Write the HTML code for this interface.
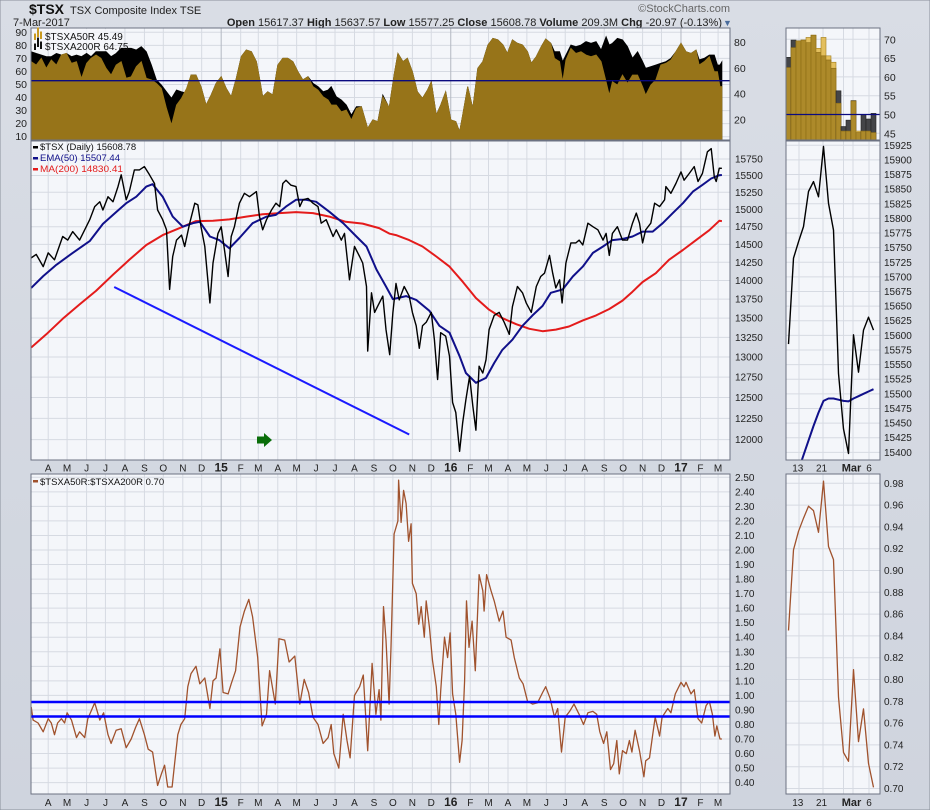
<!DOCTYPE html>
<html><head><meta charset="utf-8"><title>$TSX chart</title>
<style>
html,body{margin:0;padding:0;background:#d3d8e1;}
svg{display:block;}
text{font-family:"Liberation Sans",sans-serif;}
</style></head>
<body>
<svg id="chart" xmlns="http://www.w3.org/2000/svg" width="930" height="810" viewBox="0 0 930 810">
<defs>
<linearGradient id="bgGrad" x1="0" y1="0" x2="0" y2="1"><stop offset="0" stop-color="#d9dde5"/><stop offset="1" stop-color="#cfd4de"/></linearGradient>
<clipPath id="clipTop"><rect x="31" y="28" width="699" height="112"/></clipPath>
<clipPath id="clipMain"><rect x="31" y="141" width="699" height="319"/></clipPath>
<clipPath id="clipBot"><rect x="31" y="474" width="699" height="320"/></clipPath>
<clipPath id="clipSTop"><rect x="786" y="28" width="94" height="112"/></clipPath>
<clipPath id="clipSMain"><rect x="786" y="141" width="94" height="319"/></clipPath>
<clipPath id="clipSBot"><rect x="786" y="474" width="94" height="320"/></clipPath>
</defs>
<rect x="0" y="0" width="930" height="810" fill="url(#bgGrad)" stroke="#8a909b"/>
<text x="29" y="14" font-size="14" font-weight="bold" fill="#111">$TSX</text>
<text x="70" y="14" font-size="11" fill="#222">TSX Composite Index TSE</text>
<text x="13" y="26" font-size="11" fill="#222">7-Mar-2017</text>
<text x="722" y="26" font-size="11" fill="#222" text-anchor="end"><tspan font-weight="bold">Open</tspan> 15617.37 <tspan font-weight="bold">High</tspan> 15637.57 <tspan font-weight="bold">Low</tspan> 15577.25 <tspan font-weight="bold">Close</tspan> 15608.78 <tspan font-weight="bold">Volume</tspan> 209.3M <tspan font-weight="bold">Chg</tspan> -20.97 (-0.13%)</text>
<text x="723" y="26" font-size="9" fill="#4a6c9c">▼</text>
<text x="730" y="12" font-size="11" fill="#666" text-anchor="end">©StockCharts.com</text>
<g id="layer"></g>
</svg>
<script>
// ---------- DATA ----------
const monthDays=[31,61,92,122,153,184,214,245,275,306,337,365,396,426,457,487,518,549,579,610,640,671,702,731,762,792,823,853,884,915,945,976,1006,1037,1068,1096];
const monthLabels=["A","M","J","J","A","S","O","N","D","15","F","M","A","M","J","J","A","S","O","N","D","16","F","M","A","M","J","J","A","S","O","N","D","17","F","M"];

const tsxDays=[4,12,23,31,41,54,62,70,81,89,97,105,113,118,126,134,142,147,155,160,168,176,184,192,200,205,213,219,224,229,235,243,248,256,264,269,274,280,288,293,301,306,312,317,322,327,335,343,351,362,367,372,378,386,393,399,404,409,417,425,431,436,444,452,460,465,473,484,489,497,502,510,518,526,531,537,539,545,550,555,563,568,574,
579,584,589,597,605,610,616,621,626,632,640,645,650,655,663,669,674,679,685,690,695,701,706,711,716,722,727,732,740,748,756,764,769,777,785,791,799,807,814,820,828,833,838,844,848,854,862,870,875,881,889,897,905,913,918,923,928,936,944,952,960,966,971,976,981,989,995,1003,1011,1013,1021,1029,1037,1042,1050,1058,1064,1071,1079,1085,1090,1093,1098,1102];
const tsxVals=[14310,14360,14190,14380,14285,14610,14560,14680,14560,14705,14850,15040,15110,14990,15185,15110,15335,15510,15140,15260,15585,15585,15635,15510,15380,14990,14850,14705,13880,14330,14560,14630,14470,14800,15090,15065,14750,14470,13700,14240,14655,14750,14380,14055,14610,14750,15090,15235,15185,15260,14895,14705,14850,14990,15090,15040,15380,15430,15355,15335,15040,15140,15160,15090,15040,14800,14850,14610,14705,14560,14655,14010,14470,14330,14240,13920,13075,13835,13575,13660,13790,13350,13030,
13575,13960,13740,13920,13790,13575,13400,13110,13400,13445,13575,13220,12720,13310,13265,13010,12440,12320,11865,12200,12475,12760,12400,12110,12885,12800,12965,13350,13535,13575,13445,13290,13650,13920,13835,13700,13575,13920,14055,14100,14345,14100,13900,14010,13700,14240,14520,14520,14560,14490,14800,14750,14705,14560,14655,14345,14655,14750,14560,14560,14800,14945,14800,14520,14705,14800,15090,15040,15140,15335,15235,15380,15555,15430,15530,15635,15410,15530,15860,15910,15480,15410,15610,15609];

const emaDays=[4,23,44,70,97,118,139,155,171,187,197,213,229,245,261,272,288,303,319,335,356,378,393,409,425,441,457,478,500,521,537,553,568,579,600,616,637,653,669,685,695,711,727,740,753,769,785,801,817,830,849,865,881,897,913,928,944,960,976,992,1008,1024,1040,1056,1071,1085,1098,1102];
const emaVals=[13900,14060,14215,14380,14545,14790,14960,15090,15185,15335,15370,15185,14895,14750,14800,14820,14610,14560,14445,14590,14800,14895,14920,15040,15140,15140,15110,14965,14800,14610,14470,14150,13920,13750,13790,13740,13595,13400,13310,13010,12800,12680,12740,12925,13090,13220,13400,13535,13660,13835,13880,14055,14190,14380,14470,14560,14575,14610,14680,14680,14800,14945,15090,15260,15360,15455,15505,15507];

const maDays=[4,28,54,81,107,134,160,187,213,240,266,293,319,346,372,399,425,452,478,504,531,557,574,584,605,626,648,669,690,711,732,753,775,796,817,838,859,881,902,923,944,960,976,997,1018,1040,1061,1082,1098,1102];
const maVals=[13120,13290,13490,13680,13860,14080,14285,14490,14630,14730,14830,14835,14855,14895,14930,14945,14960,14945,14895,14820,14795,14730,14650,14630,14560,14470,14330,14190,13985,13765,13610,13500,13420,13360,13330,13350,13390,13470,13535,13620,13730,13850,13980,14100,14285,14420,14560,14700,14835,14830];

const trendDays=[136,605];
const trendVals=[13913,12060];

const ratioDays=[4,7,15,23,31,36,41,46,52,57,61,68,76,81,89,94,99,105,113,119,126,131,139,147,155,163,170,176,184,190,197,205,211,216,221,228,232,237,242,248,253,258,266,272,280,288,293,298,304,309,317,322,329,336,343,350,356,364,371,378,383,392,398,407,414,423,431,438,445,452,460,468,476,481,485,493,500,506,511,518,526,532,539,546,552,557,560,564,568,
573,576,581,587,588,592,596,600,604,608,610,616,620,624,629,632,637,642,648,652,655,661,666,670,674,679,685,689,693,696,700,705,710,716,722,724,728,735,740,748,754,759,767,772,780,786,793,801,809,817,822,829,836,841,847,853,860,867,875,882,889,897,903,908,914,919,925,930,935,939,944,950,955,959,964,971,978,981,987,992,996,1003,1007,1016,1021,1028,1037,1042,1045,1053,1058,1064,1070,1077,1082,1087,1091,1094,1099,1102];
const ratioVals=[0.92,0.83,0.81,0.75,0.84,0.81,0.73,0.81,0.84,0.81,0.88,0.83,0.71,0.75,0.71,0.84,0.89,0.95,0.83,0.88,0.73,0.67,0.76,0.77,0.64,0.70,0.78,0.84,0.73,0.63,0.61,0.38,0.46,0.52,0.37,0.37,0.53,0.73,0.80,0.84,1.06,1.15,1.20,1.08,1.12,0.91,1.10,1.12,1.32,1.02,1.01,1.08,1.17,1.47,1.58,1.66,1.54,1.26,0.79,0.87,1.17,0.94,1.39,1.38,1.23,1.27,0.94,1.11,1.02,0.85,0.80,0.67,0.71,0.80,0.60,0.50,0.87,0.69,0.57,1.00,1.06,1.14,0.62,1.22,0.87,1.04,0.83,1.61,1.38,
0.94,1.33,2.11,2.20,2.48,2.19,2.41,2.32,2.06,2.18,1.77,1.70,1.49,1.61,1.40,1.65,1.47,1.24,1.06,0.80,1.03,1.40,1.26,1.43,1.01,0.87,0.54,0.69,1.10,1.65,1.33,1.51,1.17,1.83,1.72,1.58,1.83,1.72,1.65,1.51,1.58,1.40,1.38,1.26,1.12,1.08,0.96,0.94,0.95,1.02,1.06,0.98,0.85,0.91,0.61,0.85,0.89,0.94,0.87,0.80,0.88,0.89,0.87,0.75,0.67,0.75,0.49,0.53,0.69,0.46,0.62,0.60,0.69,0.61,0.76,0.62,0.44,0.55,0.57,0.73,0.85,0.72,0.85,0.91,0.88,1.01,1.09,1.06,1.09,1.01,1.04,0.84,0.81,0.93,0.96,0.87,0.72,0.79,0.70,0.70];
const ratioLevels=[0.955,0.855];

const breadthDays=[4,12,20,28,36,44,52,60,68,76,84,92,99,107,115,123,131,139,147,155,163,171,179,187,195,203,211,219,227,235,243,251,258,266,274,282,290,298,306,314,322,330,338,346,354,362,367,372,380,388,396,404,412,420,428,436,444,452,460,468,476,481,489,497,505,513,521,529,539,547,555,563,571,
573,581,587,595,602,610,618,626,634,640,648,655,663,671,679,685,690,698,706,714,722,730,738,746,754,761,769,777,785,793,799,807,815,822,830,836,844,849,854,862,870,878,886,894,902,910,918,923,928,936,944,952,960,968,976,981,989,997,1005,1013,1021,1029,1037,1045,1053,1061,1066,1074,1082,1090,1095,1099,1102];
const a50Vals=[64.8,62.2,67.4,59.6,66.1,62.2,69.9,71.2,63.5,64.8,51.9,63.5,67.4,69.9,67.4,59.6,54.4,62.2,64.8,51.9,53.1,60.9,64.8,51.9,50.6,48.0,44.1,28.6,15.7,31.2,36.4,44.1,54.4,54.4,45.4,31.2,38.9,48.0,53.1,44.1,37.6,51.9,68.7,73.8,72.5,64.8,51.9,37.6,41.5,38.9,62.2,67.4,67.4,64.8,57.0,50.6,53.1,45.4,42.8,37.6,35.1,31.2,31.2,26.0,27.3,19.6,28.6,29.9,13.1,19.6,18.3,37.6,31.2,
28.6,54.4,71.2,64.8,67.4,57.0,41.5,36.4,42.8,49.3,23.4,31.2,41.5,19.6,18.3,10.5,23.4,45.4,28.6,59.6,64.8,77.7,82.9,81.6,77.7,71.2,81.6,79.0,77.7,72.5,63.5,68.7,76.4,82.3,79.0,67.4,64.8,49.3,66.1,75.1,71.2,72.5,69.9,68.7,69.9,64.8,49.3,38.9,49.3,46.7,54.4,48.0,54.4,54.4,45.4,38.9,46.7,50.6,62.2,63.5,66.1,72.5,79.0,72.5,71.2,73.8,62.2,64.8,68.7,57.0,57.0,45.4,45.49];
const a200Vals=[72.5,71.2,69.9,68.7,68.7,71.2,69.9,71.2,68.7,69.9,68.7,71.2,68.7,72.5,72.5,72.5,68.7,71.2,75.1,75.1,75.1,73.8,76.4,72.5,62.2,50.6,46.7,41.5,36.4,42.8,41.5,40.2,54.4,54.4,45.4,31.2,38.9,48.0,53.1,44.1,37.6,51.9,68.7,73.8,72.5,64.8,51.9,37.6,41.5,38.9,62.2,67.4,67.4,64.8,57.0,50.6,53.1,48.0,45.4,41.5,42.8,45.4,37.6,35.1,31.2,23.4,29.9,29.9,13.1,19.6,18.3,38.9,31.2,
28.6,54.4,71.2,64.8,67.4,57.0,41.5,36.4,42.8,49.3,23.4,31.2,41.5,19.6,18.3,10.5,23.4,45.4,28.6,59.6,64.8,77.7,82.9,81.6,77.7,71.2,81.6,79.0,77.7,72.5,63.5,68.7,76.4,82.3,79.0,72.5,72.5,64.8,69.9,77.7,76.4,77.7,80.3,79.0,80.3,73.8,84.2,77.7,79.0,82.9,81.6,76.4,67.4,72.5,64.8,59.6,60.9,62.2,63.5,64.8,67.4,72.5,79.0,72.5,71.2,73.8,66.1,67.4,69.9,69.9,62.2,62.2,64.75];
const breadthLevel=50;

const topLeftTicks=[90,80,70,60,50,40,30,20,10];
const topRightTicks=[80,60,40,20];
const mainTicks=[12000,12250,12500,12750,13000,13250,13500,13750,14000,14250,14500,14750,15000,15250,15500,15750];
const botTicks=[0.4,0.5,0.6,0.7,0.8,0.9,1.0,1.1,1.2,1.3,1.4,1.5,1.6,1.7,1.8,1.9,2.0,2.1,2.2,2.3,2.4,2.5];

const sideGold=[62.5,67.8,69.6,69.8,69.1,71.1,66.5,65.6,64.5,62.3,53.0,45.6,45.6,53.6,45.2,45.6,45.6,45.2];
const sideCap=[65.2,69.8,69.6,69.8,70.5,71.1,67.6,70.5,65.6,63.9,56.3,46.8,48.5,53.7,45.6,50.0,48.8,50.3];
const sideCapDark=[1,1,0,0,0,0,0,0,0,0,1,1,1,1,0,1,1,1];
const sideTsx=[15585,15732,15760,15786,15846,15863,15837,15923,15826,15780,15535,15440,15398,15601,15537,15609,15631,15609];
const sideEma=[15320,15345,15370,15395,15420,15445,15468,15488,15492,15492,15490,15488,15487,15492,15496,15500,15504,15508];
const sideRatio=[0.845,0.919,0.936,0.948,0.959,0.955,0.935,0.982,0.922,0.910,0.784,0.733,0.725,0.809,0.743,0.773,0.723,0.701];
const sideTopTicks=[45,50,55,60,65,70];
const sideMainTicks=[15400,15425,15450,15475,15500,15525,15550,15575,15600,15625,15650,15675,15700,15725,15750,15775,15800,15825,15850,15875,15900,15925];
const sideBotTicks=[0.70,0.72,0.74,0.76,0.78,0.80,0.82,0.84,0.86,0.88,0.90,0.92,0.94,0.96,0.98];
const sideDateLabels=["13","21","Mar","6"];
const sideDateIdx=[1.85,6.6,12.6,16.1];
const sideGridIdx=[2.1,6.9,11,12.9,16.1];

// ---------- AXES ----------
const NS="http://www.w3.org/2000/svg";
const L=document.getElementById('layer');
function xD(d){return 28.7+0.629*d;}
function yTop(v){return 42+(80-v)*1.29;}
function yTopLeft(v){return 32.3+(90-v)*1.305;}
function yMain(v){return 159+(Math.log(15750)-Math.log(v))*1032;}
function yBot(v){return 477.3+(2.5-v)*145.4;}
function xS(i){return 788.5+5*i;}
function ySTop(v){return 39.3+(70-v)*3.76;}
function ySMain(v){return 145.3+(15925-v)*0.5848;}
function ySBot(v){return 483.3+(0.98-v)*1090;}

function el(tag,parent){const e=document.createElementNS(NS,tag);(parent||L).appendChild(e);return e;}
function pts(xs,ys){let s='';for(let i=0;i<xs.length;i++){s+=(i?'L':'M')+xs[i].toFixed(1)+','+ys[i].toFixed(1);}return s;}

const panels=[[31,28,699,112],[31,141,699,319],[31,474,699,320],[786,28,94,112],[786,141,94,319],[786,474,94,320]];
const panelNames=['breadth-panel','price-panel','ratio-panel','breadth-zoom-panel','price-zoom-panel','ratio-zoom-panel'];
for(let p=0;p<panels.length;p++){
  const r=el('rect');
  
  
  r.setAttribute('x',panels[p][0]);r.setAttribute('y',panels[p][1]);r.setAttribute('width',panels[p][2]);r.setAttribute('height',panels[p][3]);
  r.setAttribute('fill','#f4f6fa');
}
function hline(x1,x2,y,col,w,name){const l=el('line');
  
  
  l.setAttribute('x1',x1);l.setAttribute('x2',x2);l.setAttribute('y1',y);l.setAttribute('y2',y);l.setAttribute('stroke',col);l.setAttribute('stroke-width',w);return l;}
function vline(x,y1,y2,col,w,name){const l=el('line');
  
  
  l.setAttribute('x1',x);l.setAttribute('x2',x);l.setAttribute('y1',y1);l.setAttribute('y2',y2);l.setAttribute('stroke',col);l.setAttribute('stroke-width',w);return l;}
function label(x,y,s,anchor,size,bold,name){const t=el('text');
  
  
  t.setAttribute('x',x);t.setAttribute('y',y);t.setAttribute('font-size',size);t.setAttribute('text-anchor',anchor);t.setAttribute('fill','#222');
  if(bold)t.setAttribute('font-weight','bold');t.textContent=s;return t;}

topLeftTicks.forEach(v=>{hline(31,730,yTopLeft(v),'#d6dae2',1,'grid-line');label(27,yTopLeft(v)+3.5,String(v),'end',10.5,false,'left-axis-label');});
topRightTicks.forEach(v=>{label(734,yTop(v)+4,String(v),'start',10.5,false,'breadth-axis-label');});
mainTicks.forEach(v=>{hline(31,730,yMain(v),'#d6dae2',1,'grid-line');label(735,yMain(v)+3.5,String(v),'start',10,false,'price-axis-label');});
botTicks.forEach(v=>{hline(31,730,yBot(v),'#d6dae2',1,'grid-line');label(735,yBot(v)+3.5,v.toFixed(2),'start',10,false,'ratio-axis-label');});
for(let i=0;i<monthDays.length;i++){
  const x=xD(monthDays[i]);const yr=monthLabels[i].length>1;const c=yr?'#b3b8c2':'#d6dae2';
  vline(x,28,140,c,1,'grid-line');vline(x,141,460,c,1,'grid-line');vline(x,474,794,c,1,'grid-line');
  label(x,471.5,monthLabels[i],'middle',yr?12:10,yr,'x-axis-label');
  label(x,806,monthLabels[i],'middle',yr?12:10,yr,'x-axis-label');
}
sideTopTicks.forEach(v=>{hline(786,880,ySTop(v),'#d6dae2',1,'grid-line');label(884,ySTop(v)+4,String(v),'start',10.5,false,'zoom-breadth-axis-label');});
sideMainTicks.forEach(v=>{hline(786,880,ySMain(v),'#d6dae2',1,'grid-line');label(884,ySMain(v)+3.5,String(v),'start',10,false,'zoom-price-axis-label');});
sideBotTicks.forEach(v=>{hline(786,880,ySBot(v),'#d6dae2',1,'grid-line');label(884,ySBot(v)+3.5,v.toFixed(2),'start',10,false,'zoom-ratio-axis-label');});
sideGridIdx.forEach(i=>{vline(xS(i),28,140,'#d6dae2',1,'grid-line');vline(xS(i),141,460,'#d6dae2',1,'grid-line');vline(xS(i),474,794,'#d6dae2',1,'grid-line');});
for(let i=0;i<sideDateLabels.length;i++){const b=sideDateLabels[i]==='Mar';
  label(xS(sideDateIdx[i]),471.5,sideDateLabels[i],'middle',b?11:10,b,'zoom-x-axis-label');
  label(xS(sideDateIdx[i]),806,sideDateLabels[i],'middle',b?11:10,b,'zoom-x-axis-label');}

// ---------- TOP BREADTH AREAS ----------
const gTop=el('g');gTop.setAttribute('clip-path','url(#clipTop)');
function area(days,vals,color,name){
  const xs=days.map(xD),ys=vals.map(yTop);
  const p=el('path',gTop);
  
  
  p.setAttribute('d','M'+xs[0].toFixed(1)+',141'+pts(xs,ys).replace('M','L')+'L'+xs[xs.length-1].toFixed(1)+',141Z');
  p.setAttribute('fill',color);p.setAttribute('stroke',color);p.setAttribute('stroke-width','0.8');
}
area(breadthDays,a200Vals,'#000000','tsxa200r-area');
area(breadthDays,a50Vals,'#977419','tsxa50r-area');
hline(31,730,yTop(breadthLevel),'#0a0a80',1.3,'breadth-50-level-line');

// ---------- MAIN PRICE ----------
const gMain=el('g');gMain.setAttribute('clip-path','url(#clipMain)');
function line(g,xs,ys,color,w,name){const p=el('path',g);
  
  
  p.setAttribute('d',pts(xs,ys));p.setAttribute('fill','none');p.setAttribute('stroke',color);p.setAttribute('stroke-width',w);p.setAttribute('stroke-linejoin','round');return p;}
line(gMain,maDays.map(xD),maVals.map(yMain),'#e41b1b',2,'ma200-line');
line(gMain,emaDays.map(xD),emaVals.map(yMain),'#10108a',2,'ema50-line');
line(gMain,tsxDays.map(xD),tsxVals.map(yMain),'#000000',1.4,'tsx-price-line');
line(gMain,trendDays.map(xD),trendVals.map(yMain),'#1a1aff',2,'trend-annotation-line');
const arrow=el('path',gMain);


arrow.setAttribute('d','M257,436.5H264V433L272,440L264,447V443.5H257Z');arrow.setAttribute('fill','#0a6e0a');

// ---------- RATIO ----------
const gBot=el('g');gBot.setAttribute('clip-path','url(#clipBot)');
line(gBot,ratioDays.map(xD),ratioVals.map(yBot),'#a0522d',1.3,'ratio-line');
ratioLevels.forEach(v=>{const l=hline(31,730,yBot(v),'#0000ff',2.5,'ratio-level-line');gBot.appendChild(l);});

// ---------- SIDE PANELS ----------
const gST=el('g');gST.setAttribute('clip-path','url(#clipSTop)');
for(let i=0;i<sideGold.length;i++){
  const x=xS(i)-2.5;
  const cap=el('rect',gST);
  
  
  const ct=Math.min(ySTop(sideCap[i]),ySTop(sideGold[i]));
  cap.setAttribute('x',x);cap.setAttribute('y',ct);cap.setAttribute('width',5);cap.setAttribute('height',Math.max(0,141-ct));
  cap.setAttribute('fill',sideCapDark[i]?'#444548':'#e3bf5e');cap.setAttribute('stroke',sideCapDark[i]?'#222':'#a07e20');cap.setAttribute('stroke-width','0.6');
  const b=el('rect',gST);
  
  
  const gt=ySTop(sideGold[i]);
  b.setAttribute('x',x);b.setAttribute('y',gt);b.setAttribute('width',5);b.setAttribute('height',141-gt);
  b.setAttribute('fill','#ad8a2a');b.setAttribute('stroke','#8a6a14');b.setAttribute('stroke-width','0.6');
}
gST.appendChild(hline(786,880,ySTop(breadthLevel),'#0a0a80',1.3,'zoom-breadth-50-level-line'));
const idx=sideTsx.map((v,i)=>i);
const gSM=el('g');gSM.setAttribute('clip-path','url(#clipSMain)');
line(gSM,idx.map(xS),sideEma.map(ySMain),'#10108a',2,'zoom-ema50-line');
line(gSM,idx.map(xS),sideTsx.map(ySMain),'#000000',1.4,'zoom-tsx-price-line');
const gSB=el('g');gSB.setAttribute('clip-path','url(#clipSBot)');
line(gSB,idx.map(xS),sideRatio.map(ySBot),'#a0522d',1.3,'zoom-ratio-line');

for(let p=0;p<panels.length;p++){
  const r=el('rect');
  
  
  r.setAttribute('x',panels[p][0]);r.setAttribute('y',panels[p][1]);r.setAttribute('width',panels[p][2]);r.setAttribute('height',panels[p][3]);
  r.setAttribute('fill','none');r.setAttribute('stroke','#6c7282');r.setAttribute('stroke-width','1');
}

// ---------- LEGENDS ----------
function legendText(x,y,s,color,size,name){const t=el('text');
  
  
  t.setAttribute('x',x);t.setAttribute('y',y);t.setAttribute('font-size',size);t.setAttribute('fill',color);
  t.setAttribute('font-family','"DejaVu Sans",sans-serif');t.textContent=s;return t;}
const lb=el('rect');


lb.setAttribute('x',32);lb.setAttribute('y',29);lb.setAttribute('width',78);lb.setAttribute('height',21);lb.setAttribute('fill','#f4f6fa');lb.setAttribute('opacity','0.85');
[[34,36,2.5],[37,33,5.5],[40,35,3.5]].forEach(b=>{const r=el('rect');
  
  
  r.setAttribute('x',b[0]);r.setAttribute('y',b[1]-(b[2]));r.setAttribute('width',2);r.setAttribute('height',b[2]+4);r.setAttribute('fill','#c99a20');});
[[34,46,2.5],[37,43,5.5],[40,45,3.5]].forEach(b=>{const r=el('rect');
  
  
  r.setAttribute('x',b[0]);r.setAttribute('y',b[1]-(b[2]));r.setAttribute('width',2);r.setAttribute('height',b[2]+4);r.setAttribute('fill','#111');});
legendText(45,40,'$TSXA50R 45.49','#111',10,'legend-tsxa50r');
legendText(45,50,'$TSXA200R 64.75','#111',10,'legend-tsxa200r');
function swatch(y,color,name){const r=el('rect');
  
  
  r.setAttribute('x',33);r.setAttribute('y',y);r.setAttribute('width',5);r.setAttribute('height',2.5);r.setAttribute('fill',color);}
swatch(146,'#000','legend-swatch-tsx');swatch(157,'#10108a','legend-swatch-ema');swatch(168,'#e41b1b','legend-swatch-ma');swatch(480,'#a0522d','legend-swatch-ratio');
legendText(40,150,'$TSX (Daily) 15608.78','#111',9.5,'legend-tsx');
const e1=legendText(40,161,'EMA(50) 15507.44','#10108a',9.5,'legend-ema50');
const e2=legendText(40,172,'MA(200) 14830.41','#e41b1b',9.5,'legend-ma200');
e1.setAttribute('textLength','80');e1.setAttribute('lengthAdjust','spacingAndGlyphs');
e2.setAttribute('textLength','83');e2.setAttribute('lengthAdjust','spacingAndGlyphs');
legendText(40,485,'$TSXA50R:$TSXA200R 0.70','#111',9.5,'legend-ratio');
</script>
</body></html>
